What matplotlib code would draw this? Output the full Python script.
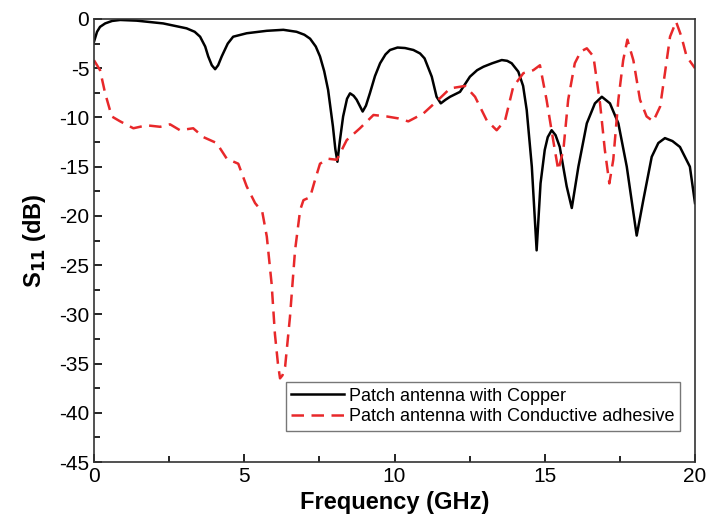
import numpy as np
import matplotlib
matplotlib.use("Agg")
import matplotlib.pyplot as plt
from matplotlib.ticker import MultipleLocator

plt.rcParams["font.family"] = ["Liberation Sans", "DejaVu Sans"]
plt.rcParams["axes.unicode_minus"] = False

# copper patch (solid black)
cu_f = [0.0, 0.1, 0.2, 0.37, 0.6, 0.87, 1.42, 2.3, 3.08, 3.35, 3.53, 3.7, 3.8, 3.92, 4.03,
        4.13, 4.25, 4.45, 4.63, 5.08, 5.75, 6.3, 6.74, 7.0, 7.19, 7.38, 7.52, 7.66, 7.79,
        7.95, 8.03, 8.1, 8.18, 8.29, 8.42, 8.52, 8.64, 8.74, 8.94, 9.05, 9.18, 9.35, 9.52,
        9.7, 9.85, 10.1, 10.35, 10.63, 10.85, 11.0, 11.24, 11.4, 11.54, 11.7, 11.85, 12.18,
        12.51, 12.75, 12.96, 13.25, 13.57, 13.75, 13.9, 14.12, 14.28, 14.4, 14.57, 14.73,
        14.86, 15.0, 15.1, 15.23, 15.36, 15.5, 15.73, 15.9, 16.12, 16.4, 16.67, 16.9, 17.17,
        17.45, 17.73, 18.06, 18.28, 18.56, 18.78, 19.0, 19.25, 19.5, 19.83, 20.0]
cu_db = [-2.3, -1.3, -0.8, -0.45, -0.2, -0.1, -0.17, -0.45, -0.95, -1.3, -1.8, -2.8,
         -3.8, -4.7, -5.1, -4.7, -3.8, -2.5, -1.8, -1.45, -1.2, -1.1, -1.3, -1.6, -2.0,
         -2.8, -3.8, -5.3, -7.2, -10.9, -13.2, -14.5, -12.4, -9.9, -8.1, -7.55, -7.8, -8.2,
         -9.4, -8.8, -7.55, -5.8, -4.5, -3.6, -3.15, -2.9, -2.95, -3.15, -3.5, -4.0, -5.86,
         -7.9, -8.57, -8.2, -7.9, -7.4, -5.86, -5.2, -4.85, -4.5, -4.17, -4.25, -4.5, -5.35,
         -6.8, -9.25, -15.0, -23.5, -16.7, -13.3, -12.0, -11.3, -11.8, -13.0, -17.0, -19.2,
         -15.0, -10.6, -8.57, -7.9, -8.57, -10.6, -15.0, -22.0, -18.4, -14.0, -12.6, -12.1,
         -12.4, -13.0, -15.0, -18.7]

# conductive adhesive patch (red dashed)
ca_f = [0.0, 0.2, 0.37, 0.59, 0.87, 1.31, 1.75, 2.2, 2.53, 2.86, 3.3, 3.64, 4.08, 4.42,
        4.8, 5.08, 5.36, 5.6, 5.75, 5.91, 6.02, 6.12, 6.19, 6.27, 6.36, 6.52, 6.69, 6.86,
        6.97, 7.19, 7.35, 7.52, 7.8, 8.08, 8.41, 8.85, 9.3, 9.74, 10.13, 10.46, 10.96, 11.46,
        11.85, 12.35, 12.68, 13.07, 13.4, 13.68, 13.95, 14.29, 14.62, 14.84, 15.06, 15.28,
        15.45, 15.62, 15.78, 16.0, 16.2, 16.4, 16.62, 16.84, 17.0, 17.15, 17.28, 17.45,
        17.61, 17.75, 17.95, 18.17, 18.39, 18.61, 18.84, 19.0, 19.17, 19.37, 19.55, 19.72,
        20.0]
ca_db = [-4.2, -5.2, -7.55, -9.9, -10.4, -11.1, -10.8, -10.95, -10.7, -11.3, -11.1, -12.0,
         -12.6, -14.2, -14.7, -17.0, -18.7, -19.6, -22.1, -26.9, -32.0, -35.0, -36.5, -36.2,
         -35.3, -30.3, -23.5, -19.4, -18.4, -18.1, -16.4, -14.7, -14.2, -14.3, -12.3, -11.1,
         -9.75, -9.9, -10.1, -10.4, -9.6, -8.2, -7.05, -6.8, -7.9, -10.3, -11.3, -10.3,
         -6.9, -5.5, -5.2, -4.7, -8.2, -12.3, -15.35, -13.3, -8.2, -4.5, -3.3, -2.98, -3.8,
         -8.57, -13.3, -16.7, -14.3, -8.2, -4.2, -2.1, -4.2, -8.2, -9.9, -10.4, -8.9, -5.5,
         -1.8, -0.27, -1.8, -3.8, -5.0]

fig = plt.figure(figsize=(7.07, 5.23), dpi=100)
ax = fig.add_axes([0.133, 0.1166, 0.850, 0.8471])

ax.plot(cu_f, cu_db, color="black", lw=1.8, label="Patch antenna with Copper")
ax.plot(ca_f, ca_db, color="#e8282a", lw=1.8, ls=(0, (5, 3)),
        label="Patch antenna with Conductive adhesive")

ax.set_xlim(0, 20)
ax.set_ylim(-45, 0)
ax.xaxis.set_major_locator(MultipleLocator(5))
ax.xaxis.set_minor_locator(MultipleLocator(2.5))
ax.yaxis.set_major_locator(MultipleLocator(5))
ax.yaxis.set_minor_locator(MultipleLocator(2.5))
ax.tick_params(which="both", direction="in", labelsize=15, width=1.2)
ax.tick_params(which="major", length=6)
ax.tick_params(which="minor", length=4)
for s in ax.spines.values():
    s.set_linewidth(1.2)
    s.set_color("#333333")

ax.set_xlabel("Frequency (GHz)", fontsize=17, fontweight="bold", labelpad=4)
ax.set_ylabel("S$_{\\mathbf{11}}$ (dB)", fontsize=17, fontweight="bold", labelpad=8)

leg = ax.legend(loc="lower right", bbox_to_anchor=(0.99, 0.05), fontsize=13,
                frameon=True, fancybox=False, edgecolor="#555555",
                handlelength=2.9, borderpad=0.3, labelspacing=0.2, handletextpad=0.3)
leg.get_frame().set_linewidth(1.0)

fig.savefig("out.png", dpi=100)
